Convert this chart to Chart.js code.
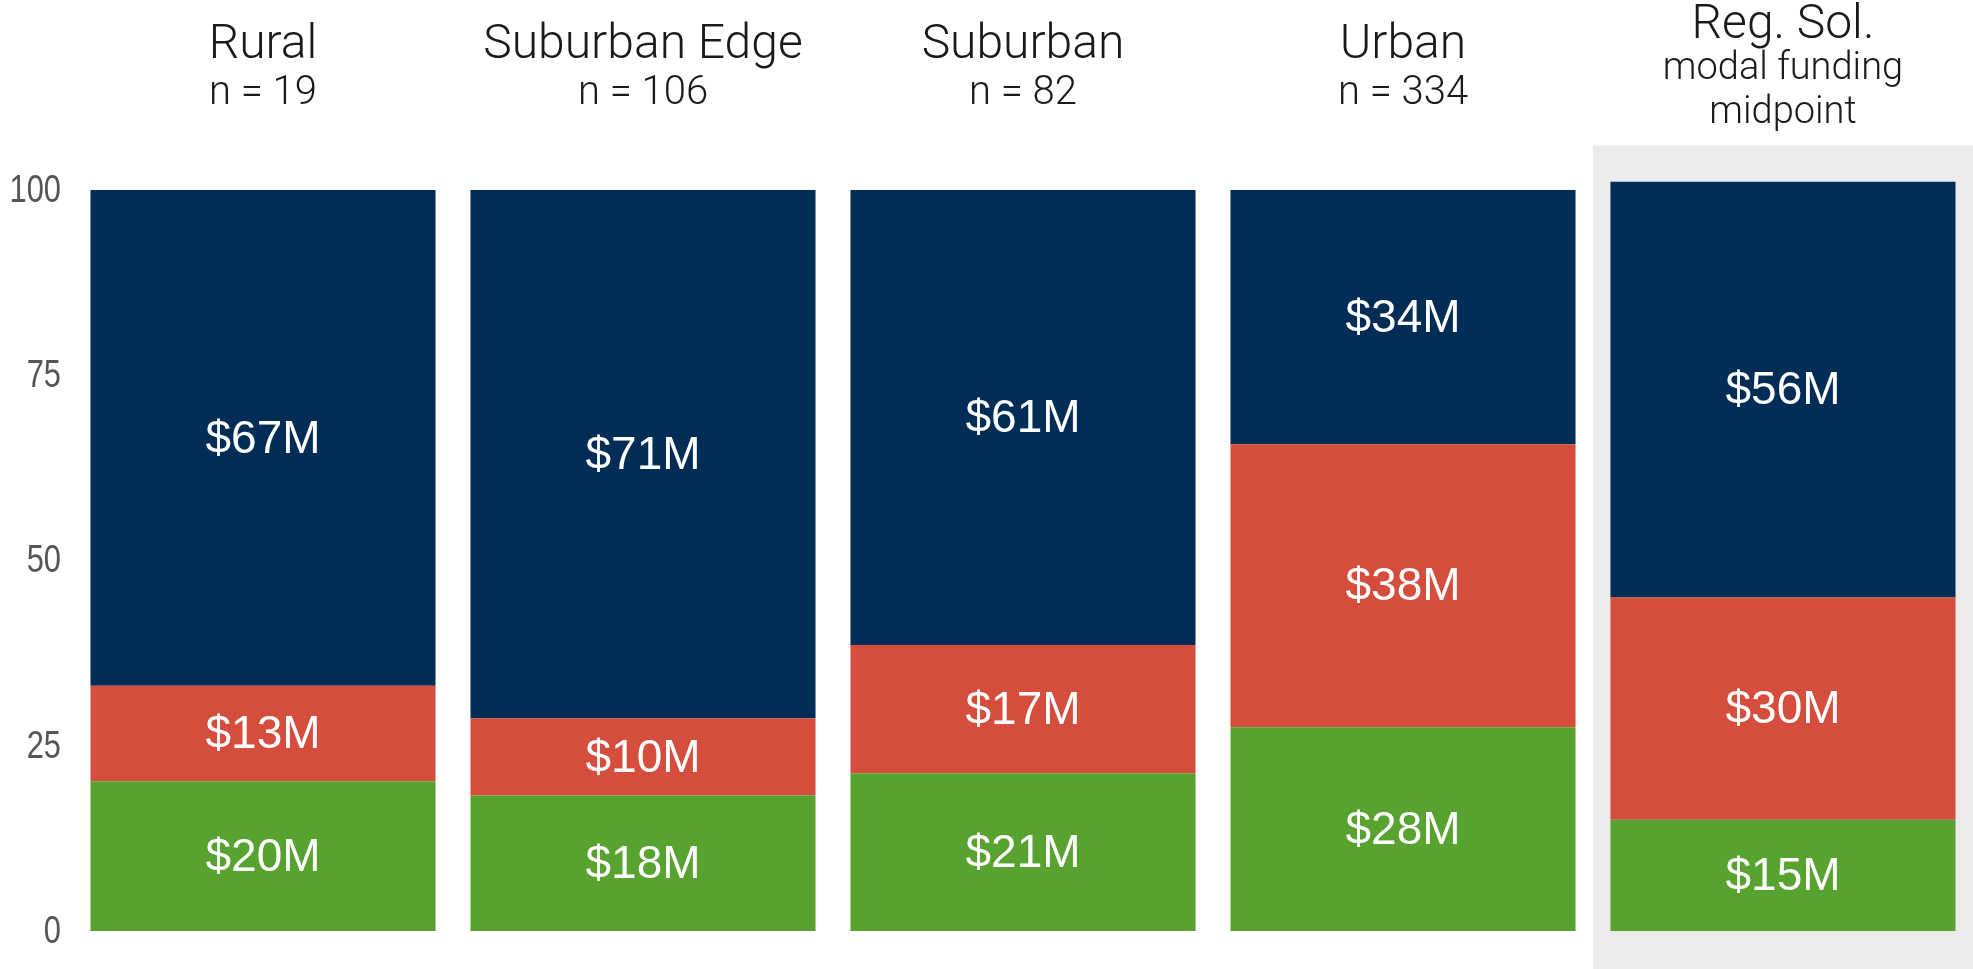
<!DOCTYPE html>
<html>
<head>
<meta charset="utf-8">
<script src="https://cdn.jsdelivr.net/npm/chart.js@4/dist/chart.umd.min.js"></script>
<style>
  html, body { margin: 0; padding: 0; background: #fff; }
  #wrap { width: 1973px; height: 969px; position: relative; }
</style>
</head>
<body>
<div id="wrap"><canvas id="myChart"></canvas></div>
<script>
// categories + header lines
const categories = ['Rural', 'Suburban Edge', 'Suburban', 'Urban', 'Reg. Sol.'];
const subLines = [['n = 19'], ['n = 106'], ['n = 82'], ['n = 334'], ['modal funding', 'midpoint']];

// stacked shares, bottom -> top
const greenVals = [20.2, 18.3, 21.3, 27.5, 15.0];
const redVals = [12.9, 10.4, 17.3, 38.2, 30.0];
const navyVals = [66.9, 71.3, 61.4, 34.3, 56.1];

const yTicks = [0, 25, 50, 75, 100];

const NAVY = '#002d56';
const RED = '#d54e3d';
const GREEN = '#58a22f';

const ctx = document.getElementById('myChart');

// grey box behind the last column
const shadePlugin = {
    id: 'shade',
    beforeDatasetsDraw(chart) {
        const x = chart.scales.x, y = chart.scales.y;
        const half = (chart.chartArea.right - chart.chartArea.left) / categories.length / 2;
        const cx = x.getPixelForValue(categories.length - 1);
        const top = y.getPixelForValue(106);
        const c = chart.ctx;
        c.save();
        c.fillStyle = '#ebebeb';
        c.fillRect(cx - half, top, half * 2, chart.height - top);
        c.restore();
    }
};

// y tick labels in a narrow face (no condensed font installed, so squeeze it)
const narrowTicks = {
    id: 'narrowTicks',
    afterDraw(chart) {
        const y = chart.scales.y;
        const c = chart.ctx;
        const right = chart.chartArea.left - 12;
        c.save();
        c.fillStyle = '#555555';
        c.font = '39px "Liberation Sans", Arial, sans-serif';
        c.textAlign = 'right';
        c.textBaseline = 'middle';
        y.ticks.forEach(t => {
            const py = y.getPixelForValue(t.value);
            c.save();
            c.translate(right, py + 1);
            c.scale(0.79, 1);
            c.fillText(String(t.value), 0, 0);
            c.restore();
        });
        c.restore();
    }
};

// $xxM labels centred in every segment
const segLabels = {
    id: 'segLabels',
    afterDatasetsDraw(chart) {
        const c = chart.ctx;
        c.save();
        c.fillStyle = '#ffffff';
        c.font = '46px "Liberation Sans", Arial, sans-serif';
        c.textAlign = 'center';
        c.textBaseline = 'middle';
        chart.data.datasets.forEach((ds, i) => {
            const meta = chart.getDatasetMeta(i);
            meta.data.forEach((bar, j) => {
                const yMid = (bar.y + bar.base) / 2;
                c.fillText('$' + Math.round(ds.data[j]) + 'M', bar.x, yMid + 2);
            });
        });
        c.restore();
    }
};

// column headers above the bars
const headers = {
    id: 'headers',
    afterDraw(chart) {
        const c = chart.ctx;
        const x = chart.scales.x;
        c.save();
        c.fillStyle = '#1a1a1a';
        c.textAlign = 'center';
        c.textBaseline = 'alphabetic';
        categories.forEach((name, i) => {
            const cx = x.getPixelForValue(i);
            const subs = subLines[i];
            c.font = '300 48px Roboto, "Liberation Sans", sans-serif';
            if (subs.length === 1) {
                c.fillText(name, cx, 58);
                c.font = '300 40px Roboto, "Liberation Sans", sans-serif';
                c.fillText(subs[0], cx, 104);
            } else {
                c.fillText(name, cx, 38);
                c.font = '300 38px Roboto, "Liberation Sans", sans-serif';
                c.fillText(subs[0], cx, 79);
                c.fillText(subs[1], cx, 123);
            }
        });
        c.restore();
    }
};

function make_bar(cnv) {
    return new Chart(cnv, {
        type: 'bar',
        data: {
            labels: categories,
            datasets: [
                { label: 'green', data: greenVals, backgroundColor: GREEN },
                { label: 'red', data: redVals, backgroundColor: RED },
                { label: 'navy', data: navyVals, backgroundColor: NAVY }
            ]
        },
        options: {
            responsive: true,
            maintainAspectRatio: false,
            animation: false,
            devicePixelRatio: 1,
            layout: { padding: { top: 190, bottom: 38, left: 0, right: 0 } },
            datasets: {
                bar: { categoryPercentage: 1, barPercentage: 0.908, borderWidth: 0, clip: false }
            },
            plugins: {
                legend: { display: false },
                tooltip: { enabled: false }
            },
            scales: {
                x: {
                    stacked: true,
                    display: false
                },
                y: {
                    stacked: true,
                    min: 0,
                    max: 100,
                    afterBuildTicks(scale) {
                        scale.ticks = yTicks.map(v => ({ value: v }));
                    },
                    afterFit(scale) {
                        scale.width = 73;
                    },
                    grid: { display: false, drawTicks: false },
                    border: { display: false },
                    ticks: { display: false }
                }
            }
        },
        plugins: [shadePlugin, segLabels, headers, narrowTicks]
    });
}

make_bar(ctx);
</script>
</body>
</html>
